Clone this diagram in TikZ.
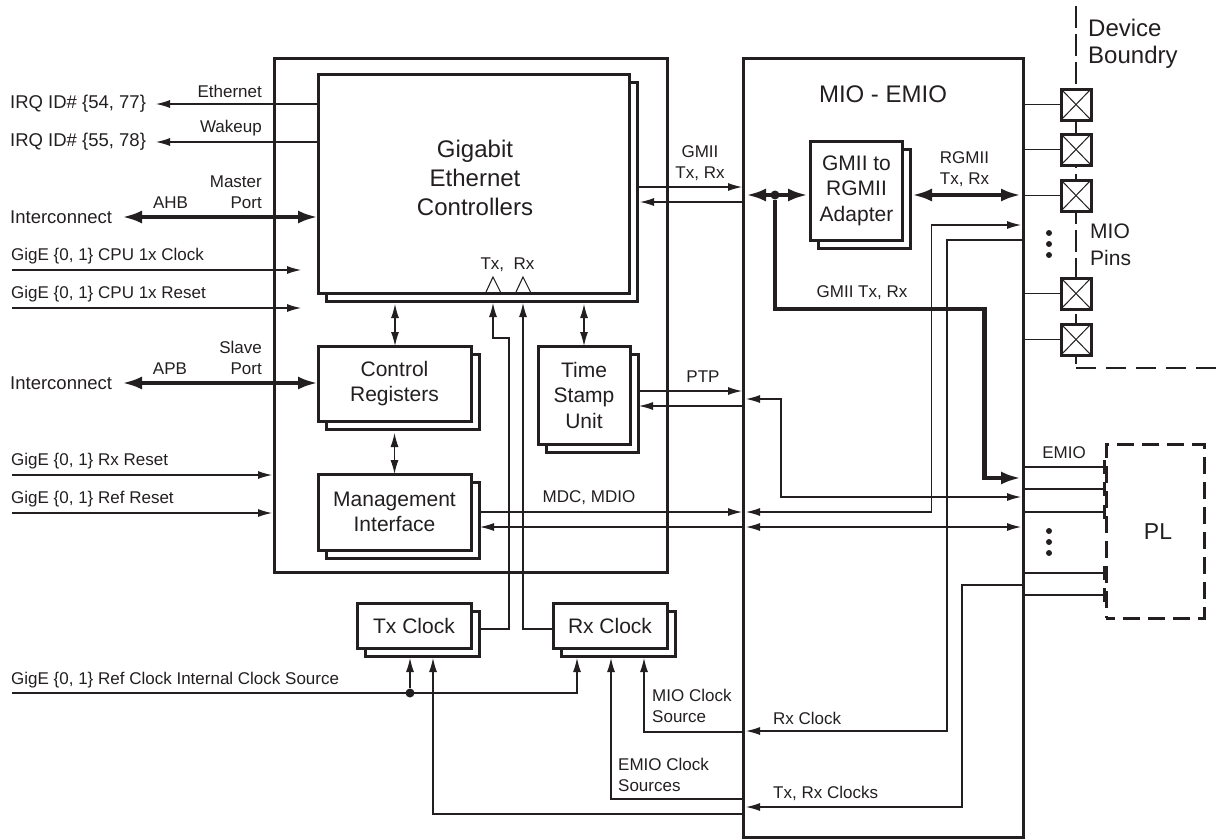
\documentclass[tikz,border=0pt]{standalone}
\usepackage{fontspec}
\setmainfont{Liberation Sans}
\usepackage{xcolor}
\usetikzlibrary{arrows.meta}
\definecolor{ink}{HTML}{231F20}
\tikzset{
    wire/.style={draw=ink, line width=1.1pt, shorten >=1pt},
    busline/.style={draw=ink, line width=4.5pt, >={Latex[length=20pt,width=13pt]}},
    plainbox/.style={draw=ink, line width=3pt, outer sep=0pt, inner sep=0pt},
    stackbox/.style={plainbox, fill=white, align=center, font=\fontsize{21}{25.5}\selectfont,
        preaction={draw=ink, fill=white, line width=3pt, transform canvas={xshift=8pt, yshift=-8pt}}},
    padbox/.style={draw=ink, line width=3pt, fill=white, outer sep=0pt, inner sep=0pt,
        minimum width=30pt, minimum height=31pt,
        path picture={\draw[ink, line width=1pt] (path picture bounding box.north west) -- (path picture bounding box.south east)
            (path picture bounding box.north east) -- (path picture bounding box.south west);}},
    smalltext/.style={text=ink, inner sep=0pt, font=\fontsize{17}{21}\selectfont},
    midtext/.style={text=ink, inner sep=0pt, font=\fontsize{18.5}{22}\selectfont},
    bigtext/.style={text=ink, inner sep=0pt, font=\fontsize{24}{29}\selectfont},
    dotmark/.style={circle, fill=ink, inner sep=0pt, minimum size=#1},
    emioline/.style={wire, shorten >=0pt, -{Bar[width=14pt,line width=3pt]}},
}
\begin{document}
\begin{tikzpicture}[x=1pt, y=-1pt, >={Latex[length=14pt,width=8pt]}, every node/.style={text=ink}]
\useasboundingbox (0,0) rectangle (1223,838);

% device boundary
\coordinate (bndtop) at (1076,6);
\coordinate (bndcorner) at (1076,368);
\coordinate (bndend) at (1223,368);
\draw[ink, line width=1.1pt, dash pattern=on 22pt off 6pt] (bndtop) -- (bndcorner);
\draw[ink, line width=1.1pt, dash pattern=on 20pt off 10pt] (bndcorner) -- (bndend);

% main blocks
\node[plainbox, minimum width=393pt, minimum height=514pt] (gemblock) at (470.5,315) {};
\node[plainbox, minimum width=280pt, minimum height=779pt] (mio) at (883,447.5) {};
\node[stackbox, minimum width=311pt, minimum height=219pt] (gem) at (473.5,183.5) {};
\node[bigtext, align=center] (gemtext) at (475,178) {Gigabit\\Ethernet\\Controllers};
\node[stackbox, minimum width=153pt, minimum height=75pt] (ctrl) at (394.5,383.5) {Control\\Registers};
\node[stackbox, minimum width=153pt, minimum height=76pt] (mgmt) at (394.5,512) {Management\\Interface};
\node[stackbox, minimum width=92pt, minimum height=98pt] (tsu) at (584,395) {Time\\Stamp\\Unit};
\node[stackbox, minimum width=114pt, minimum height=45pt] (txclk) at (414,625.5) {Tx Clock};
\node[stackbox, minimum width=114pt, minimum height=45pt] (rxclk) at (610,625.5) {Rx Clock};
\node[stackbox, minimum width=92pt, minimum height=99pt] (adapter) at (856.5,190.5) {GMII to\\RGMII\\Adapter};
\node[bigtext] (miotext) at (883,94) {MIO - EMIO};
\node[draw=ink, line width=3pt, dash pattern=on 17pt off 8pt, dash phase=8pt, minimum width=98pt, minimum height=174pt,
      outer sep=0pt] (pl) at (1155,531) {};
\node[text=ink, inner sep=0pt, font=\fontsize{23}{28}\selectfont] (pltext) at (1158,532) {PL};

% pins
\node[padbox] (pada) at (1076,104.5) {};
\node[padbox] (padb) at (1076,149.5) {};
\node[padbox] (padc) at (1076,195.5) {};
\node[padbox] (padd) at (1076,293.5) {};
\node[padbox] (pade) at (1076,339.5) {};
\draw[wire, shorten >=0pt] (mio.east |- pada) -- (pada);
\draw[wire, shorten >=0pt] (mio.east |- padb) -- (padb);
\draw[wire, shorten >=0pt] (mio.east |- padc) -- (padc);
\draw[wire, shorten >=0pt] (mio.east |- padd) -- (padd);
\draw[wire, shorten >=0pt] (mio.east |- pade) -- (pade);
\node[dotmark=6pt] (pindota) at (1049,233) {};
\node[dotmark=6pt] (pindotb) at (1049,244) {};
\node[dotmark=6pt] (pindotc) at (1049,255) {};
\node[bigtext, anchor=west] (devtext) at (1088,28) {Device};
\node[bigtext, anchor=west] (bndtext) at (1088,57) {Boundry};
\node[bigtext, anchor=west, font=\fontsize{21}{26}\selectfont] (miopins) at (1090,231) {MIO};
\node[bigtext, anchor=west, font=\fontsize{21}{26}\selectfont] (miopinsb) at (1090,258) {Pins};

% left side
\node[midtext, anchor=west] (irqa) at (10,104) {IRQ ID\# \{54, 77\}};
\node[midtext, anchor=west] (irqb) at (10,142) {IRQ ID\# \{55, 78\}};
\node[midtext, anchor=west] (ahbport) at (10,217) {Interconnect};
\node[midtext, anchor=west] (apbport) at (10,383) {Interconnect};
\coordinate (irqatip) at (155,104);
\coordinate (irqbtip) at (155,142);
\coordinate (ahbtip) at (122,217);
\coordinate (apbtip) at (122,383);
\draw[wire, ->] (gem.west |- irqatip) -- (irqatip);
\draw[wire, ->] (gem.west |- irqbtip) -- (irqbtip);
\draw[busline, <->] (ahbtip) -- (gem.west |- ahbtip);
\draw[busline, <->] (apbtip) -- (ctrl.west |- apbtip);
\node[smalltext, anchor=east] (ethtext) at (262,91) {Ethernet};
\node[smalltext, anchor=east] (waketext) at (262,128) {Wakeup};
\node[smalltext] (ahbtext) at (170.5,203) {AHB};
\node[smalltext] (apbtext) at (170,369) {APB};
\node[smalltext, anchor=east, align=right] (mastertext) at (262,192) {Master\\Port};
\node[smalltext, anchor=east, align=right] (slavetext) at (262,358) {Slave\\Port};

\coordinate (cpuclka) at (12,270);
\coordinate (cpuclkb) at (302,270);
\coordinate (cpursta) at (12,308);
\coordinate (cpurstb) at (302,308);
\coordinate (rxrsta) at (12,475);
\coordinate (rxrstb) at (273,475);
\coordinate (refrsta) at (12,513);
\coordinate (refrstb) at (273,513);
\draw[wire, ->] (cpuclka) -- (cpuclkb);
\draw[wire, ->] (cpursta) -- (cpurstb);
\draw[wire, ->] (rxrsta) -- (rxrstb);
\draw[wire, ->] (refrsta) -- (refrstb);
\node[smalltext, anchor=west] (cpuclktext) at (11,256) {GigE \{0, 1\} CPU 1x Clock};
\node[smalltext, anchor=west] (cpursttext) at (11,294) {GigE \{0, 1\} CPU 1x Reset};
\node[smalltext, anchor=west] (rxrsttext) at (11,461) {GigE \{0, 1\} Rx Reset};
\node[smalltext, anchor=west] (refrsttext) at (11,499) {GigE \{0, 1\} Ref Reset};
\node[smalltext, anchor=west] (refclktext) at (11,680) {GigE \{0, 1\} Ref Clock Internal Clock Source};

% inside the controller block
\coordinate (gemctrla) at (395,304);
\coordinate (gemtsua) at (584,304);
\coordinate (ctrlmgmta) at (394.5,433);
\draw[wire, <->, shorten >=0pt] (gemctrla) -- (gemctrla |- ctrl.north);
\draw[wire, <->, shorten >=0pt] (ctrlmgmta) -- (mgmt.north);
\draw[wire, <->, shorten >=0pt] (gemtsua) -- (tsu.north);
\draw[ink, line width=1.1pt] (486,292) -- (493,277) -- (500.5,292);
\draw[ink, line width=1.1pt] (516,292) -- (523,277) -- (530.5,292);
\node[smalltext] (txrxtext) at (507.5,265) {Tx,\ \ Rx};
\coordinate (txpin) at (493,303);
\coordinate (rxpin) at (523,303);
\coordinate (txbend) at (509,338);
\coordinate (txout) at (479,629);
\draw[wire, ->, shorten >=0pt] (txout) -- (txbend |- txout) -- (txbend) -- (txpin |- txbend) -- (txpin);
\draw[wire, ->, shorten >=0pt] (rxclk.west |- txout) -- (rxpin |- txout) -- (rxpin);

% clocks below
\node[dotmark=9pt] (refjoin) at (410,693) {};
\coordinate (refstart) at (12,693);
\coordinate (txclkref) at (410,658);
\coordinate (txclkmio) at (433,658);
\coordinate (rxclkref) at (577,658);
\coordinate (rxclkemio) at (611,658);
\coordinate (rxclkmio) at (644,658);
\coordinate (txclkrun) at (742,814);
\coordinate (emiorun) at (742,799);
\coordinate (miorun) at (742,732);
\draw[wire, ->, shorten >=0pt] (refstart) -- (rxclkref |- refstart) -- (rxclkref);
\draw[wire, ->, shorten >=0pt] (refjoin) -- (txclkref);
\draw[wire, ->, shorten >=0pt] (txclkrun) -- (txclkmio |- txclkrun) -- (txclkmio);
\draw[wire, ->, shorten >=0pt] (emiorun) -- (rxclkemio |- emiorun) -- (rxclkemio);
\draw[wire, ->, shorten >=0pt] (miorun) -- (rxclkmio |- miorun) -- (rxclkmio);
\node[smalltext, anchor=west, align=left] (miosrc) at (652,706) {MIO Clock\\Source};
\node[smalltext, anchor=west, align=left] (emiosrc) at (618,775) {EMIO Clock\\Sources};

% between the controller and MIO
\coordinate (gmiiout) at (637,187);
\coordinate (gmiiin) at (640,202);
\coordinate (ptpout) at (637,391);
\coordinate (ptpin) at (639,406);
\coordinate (mdcout) at (478,512);
\coordinate (mdioin) at (480,527);
\draw[wire, ->] (gmiiout) -- (mio.west |- gmiiout);
\draw[wire, ->, shorten >=0pt] (mio.west |- gmiiin) -- (gmiiin);
\draw[wire, ->] (ptpout) -- (mio.west |- ptpout);
\draw[wire, ->, shorten >=0pt] (mio.west |- ptpin) -- (ptpin);
\draw[wire, ->] (mdcout) -- (mio.west |- mdcout);
\draw[wire, ->, shorten >=0pt] (mio.west |- mdioin) -- (mdioin);
\node[smalltext, align=center] (gmiitext) at (700,163.5) {GMII\\Tx, Rx};
\node[smalltext] (ptptext) at (703,377) {PTP};
\node[smalltext] (mdctext) at (589,498) {MDC, MDIO};

% inside MIO
\coordinate (gmiil) at (746,195);
\coordinate (gmiir) at (808,195);
\coordinate (rgmiil) at (912,195);
\coordinate (rgmiir) at (1021,195);
\node[dotmark=9pt] (gmiijoin) at (775,195) {};
\coordinate (gmiibenda) at (775,309);
\coordinate (gmiibendb) at (984.5,309);
\coordinate (emiotip) at (1021,478);
\draw[busline, <->] (gmiil) -- (gmiir);
\draw[busline, <->] (rgmiil) -- (rgmiir);
\draw[busline, ->] (gmiijoin) -- (gmiibenda) -- (gmiibendb) -- (gmiibendb |- emiotip) -- (emiotip);
\node[smalltext, align=center] (rgmiitext) at (964.5,169.5) {RGMII\\Tx, Rx};
\node[smalltext] (gmiibus) at (862,293) {GMII Tx, Rx};

\coordinate (pinina) at (931.5,225);
\coordinate (pinintip) at (1021,225);
\coordinate (pininb) at (947,240);
\coordinate (pininc) at (962,585);
\coordinate (mdclft) at (746,512);
\coordinate (rxclklft) at (746,731);
\coordinate (txrxlft) at (746,807);
\coordinate (ptplft) at (746,399);
\coordinate (ptprun) at (781,497);
\coordinate (ptprgt) at (1021,497);
\coordinate (mdiolft) at (746,527);
\coordinate (mdiorgt) at (1021,527);
\draw[wire, <->, shorten >=0pt] (pinintip) -- (pinina) -- (pinina |- mdclft) -- (mdclft);
\draw[wire, shorten >=0pt, <-] (rxclklft) -- (pininb |- rxclklft) -- (pininb) -- (mio.east |- pininb);
\draw[wire, shorten >=0pt, <-] (txrxlft) -- (pininc |- txrxlft) -- (pininc) -- (mio.east |- pininc);
\draw[wire, <->, shorten >=0pt] (ptplft) -- (ptprun |- ptplft) -- (ptprun) -- (ptprgt);
\draw[wire, <->, shorten >=0pt] (mdiolft) -- (mdiorgt);
\node[smalltext, anchor=west] (rxclktext) at (773,718) {Rx Clock};
\node[smalltext, anchor=west] (txrxclktext) at (773,793) {Tx, Rx Clocks};

% EMIO
\coordinate (emioa) at (1023,467);
\coordinate (emiob) at (1023,489);
\coordinate (emioc) at (1023,512);
\coordinate (emiod) at (1023,573);
\coordinate (emioe) at (1023,595);
\draw[emioline] (emioa) -- (pl.west |- emioa);
\draw[emioline] (emiob) -- (pl.west |- emiob);
\draw[emioline] (emioc) -- (pl.west |- emioc);
\draw[emioline] (emiod) -- (pl.west |- emiod);
\draw[emioline] (emioe) -- (pl.west |- emioe);
\node[smalltext] (emiotext) at (1064,453) {EMIO};
\node[dotmark=6pt] (emiodota) at (1049,531) {};
\node[dotmark=6pt] (emiodotb) at (1049,542) {};
\node[dotmark=6pt] (emiodotc) at (1049,553) {};
\end{tikzpicture}
\end{document}
